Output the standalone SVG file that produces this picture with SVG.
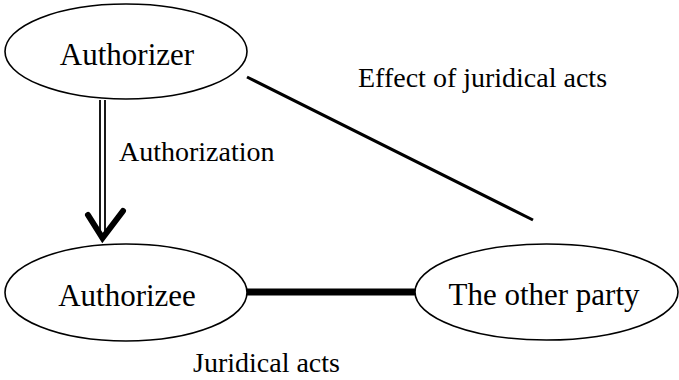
<svg xmlns="http://www.w3.org/2000/svg" width="679" height="380" viewBox="0 0 679 380">
<style>
  .node ellipse { fill: #fff; stroke: #000; stroke-width: 1.6; }
  .ntext { font-family: "Liberation Serif", "Times New Roman", serif; font-size: 31px; fill: #000; text-anchor: middle; }
  .label { font-family: "Liberation Serif", "Times New Roman", serif; font-size: 28px; fill: #000; }
  .conn { stroke: #000; fill: none; }
</style>
<rect width="679" height="380" fill="#fff"/>
<g id="connectors">
  <line class="conn" x1="100" y1="100" x2="100" y2="236" stroke-width="1.8"/>
  <line class="conn" x1="105" y1="100" x2="105" y2="236" stroke-width="1.8"/>
  <polyline class="conn" points="88,215 102.5,238 123,211" stroke-width="6" stroke-linecap="round" stroke-linejoin="miter"/>
  <line class="conn" x1="247" y1="77" x2="533" y2="220" stroke-width="3"/>
  <line class="conn" x1="247" y1="292" x2="415" y2="292" stroke-width="7"/>
</g>
<g id="authorizer" class="node">
  <ellipse cx="126" cy="51.5" rx="121" ry="47.5"/>
  <text class="ntext" x="127" y="65">Authorizer</text>
</g>
<g id="authorizee" class="node">
  <ellipse cx="126" cy="292.5" rx="121" ry="48.5"/>
  <text class="ntext" x="127" y="306">Authorizee</text>
</g>
<g id="other-party" class="node">
  <ellipse cx="546.5" cy="292" rx="131.5" ry="48"/>
  <text class="ntext" x="544" y="305">The other party</text>
</g>
<g id="labels">
  <text class="label" x="119" y="161">Authorization</text>
  <text class="label" x="358" y="87">Effect of juridical acts</text>
  <text class="label" x="193" y="372">Juridical acts</text>
</g>
</svg>
